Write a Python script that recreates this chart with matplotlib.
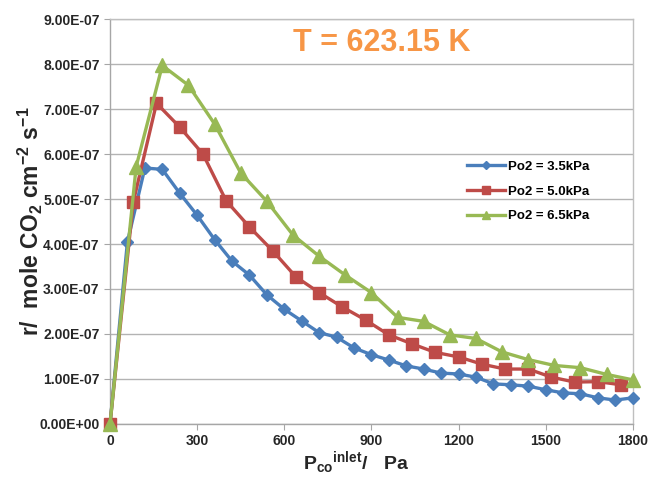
import matplotlib
matplotlib.use('Agg')
import matplotlib.pyplot as plt
from matplotlib.ticker import FuncFormatter, MultipleLocator

plt.rcParams['font.family'] = ['Liberation Sans', 'DejaVu Sans']
plt.rcParams['mathtext.fontset'] = 'custom'
plt.rcParams['mathtext.rm'] = 'Liberation Sans:bold'
plt.rcParams['mathtext.it'] = 'Liberation Sans:bold'
plt.rcParams['mathtext.bf'] = 'Liberation Sans:bold'

# datos (r en 1e-7 mol CO2 cm-2 s-1)
x_35 = [0, 60, 120, 180, 240, 300, 360, 420, 480, 540, 600, 660, 720, 780, 840, 900,
        960, 1020, 1080, 1140, 1200, 1260, 1320, 1380, 1440, 1500, 1560, 1620, 1680, 1740, 1800]
r_35 = [0, 4.05, 5.69, 5.66, 5.13, 4.64, 4.10, 3.62, 3.31, 2.87, 2.55, 2.29, 2.03, 1.93, 1.69, 1.54,
        1.42, 1.29, 1.22, 1.13, 1.11, 1.04, 0.89, 0.87, 0.84, 0.76, 0.69, 0.67, 0.58, 0.53, 0.58]

x_50 = [0, 80, 160, 240, 320, 400, 480, 560, 640, 720, 800, 880, 960, 1040, 1120, 1200,
        1280, 1360, 1440, 1520, 1600, 1680, 1760]
r_50 = [0, 4.93, 7.13, 6.60, 6.00, 4.96, 4.38, 3.85, 3.27, 2.92, 2.60, 2.31, 1.98, 1.78, 1.59, 1.49,
        1.33, 1.22, 1.22, 1.04, 0.93, 0.94, 0.87]

x_65 = [0, 90, 180, 270, 360, 450, 540, 630, 720, 810, 900, 990, 1080, 1170, 1260, 1350,
        1440, 1530, 1620, 1710, 1800]
r_65 = [0, 5.72, 7.97, 7.53, 6.67, 5.58, 4.95, 4.20, 3.73, 3.31, 2.92, 2.37, 2.28, 1.98, 1.90, 1.60,
        1.43, 1.30, 1.25, 1.10, 0.98]

labels = ['Po2 = 3.5kPa', 'Po2 = 5.0kPa', 'Po2 = 6.5kPa']

fig = plt.figure(figsize=(6.51, 4.79), dpi=100)
ax = fig.add_axes([0.169, 0.115, 0.803, 0.845])

ax.plot(x_35, [v * 1e-7 for v in r_35], color='#4A7EBB', lw=2.4, marker='D', ms=6.5,
        label=labels[0], zorder=3, clip_on=False)
ax.plot(x_50, [v * 1e-7 for v in r_50], color='#BE4B48', lw=2.4, marker='s', ms=9,
        label=labels[1], zorder=3, clip_on=False)
ax.plot(x_65, [v * 1e-7 for v in r_65], color='#98B954', lw=2.4, marker='^', ms=10,
        label=labels[2], zorder=3, clip_on=False)

ax.set_xlim(0, 1800)
ax.set_ylim(0, 9e-7)
ax.xaxis.set_major_locator(MultipleLocator(300))
ax.yaxis.set_major_locator(MultipleLocator(1e-7))
ax.yaxis.set_major_formatter(FuncFormatter(lambda v, p: f'{v:.2E}'))
ax.yaxis.get_offset_text().set_visible(False)

ax.grid(True, axis='y', color='#B3B3B3', lw=1.0, zorder=0)
ax.set_axisbelow(True)
for s in ax.spines.values():
    s.set_color('#BFBFBF')
    s.set_linewidth(1.0)
ax.spines['left'].set_color('#A6A6A6')
ax.spines['bottom'].set_color('#A6A6A6')

ax.tick_params(axis='both', colors='#A6A6A6', labelcolor='#262626', labelsize=10, length=4)
for t in ax.get_xticklabels() + ax.get_yticklabels():
    t.set_fontweight('bold')

ax.set_ylabel(r'r/  mole CO$_2$ cm$^{-2}$ s$^{-1}$', fontsize=16.5, fontweight='bold', color='#262626')
ax.yaxis.set_label_coords(-0.124, 0.5)
ax.set_xlabel(r'P$_{co}$$^{inlet}$/   Pa', fontsize=14, fontweight='bold', color='#262626')
ax.xaxis.set_label_coords(0.47, -0.062)

ax.text(0.52, 0.94, 'T = 623.15 K', transform=ax.transAxes, ha='center', va='center',
        fontsize=22, fontweight='bold', color='#F79646')

leg = ax.legend(loc='upper left', bbox_to_anchor=(0.66, 0.68), frameon=False,
                prop={'weight': 'bold', 'size': 9.5}, handlelength=2.9, handletextpad=0.2,
                labelspacing=0.95, markerscale=0.6)

fig.savefig('out.png', dpi=100)
